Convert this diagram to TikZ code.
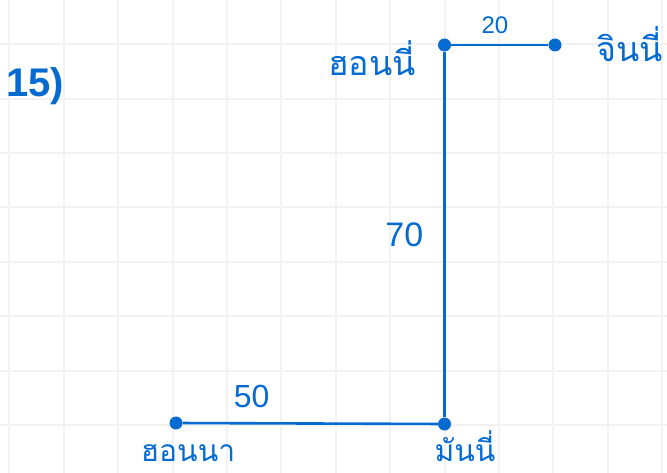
\documentclass[tikz,border=0pt]{standalone}
\usepackage{fontspec}
\setmainfont{Liberation Sans}
\newfontfamily\thaifont[Script=Thai]{Loma}
\usetikzlibrary{positioning}
\definecolor{penblue}{rgb}{0.02,0.42,0.82}
\definecolor{gridgray}{rgb}{0.95,0.95,0.95}
\tikzset{
  dot/.style={
    circle,
    fill=penblue,
    inner sep=0pt,
    minimum size=13pt
  },
  link/.style={
    line width=2.6pt,
    penblue
  },
  who/.style={
    text=penblue,
    anchor=base,
    inner sep=0pt,
    text depth=0pt,
    font=\thaifont\fontsize{34}{34}\selectfont
  },
  weight/.style={
    text=penblue,
    inner sep=0pt,
    font=\fontsize{34}{34}\selectfont
  },
  gridline/.style={
    gridgray,
    line width=2pt
  }
}

\begin{document}
\begin{tikzpicture}[x=1pt,y=-1pt]
\fill[white] (0,0) rectangle (667,473);
\useasboundingbox (0,0) rectangle (667,473);
% paper grid
\foreach \i in {0,...,12}
  \draw[gridline] ({9.3+54.4*\i},0) -- ++(0,473);
\foreach \j in {0,...,7}
  \draw[gridline] (0,{44.2+54.4*\j}) -- ++(667,0);

\node[text=penblue,anchor=base,inner sep=0pt,font=\bfseries\fontsize{40}{40}\selectfont] (num) at (35,97) {15)};

\node[dot] (honey) at (444.5,45) {};
\node[dot] (ginny) at (555,45) {};
\node[dot] (money) at (444.5,424) {};
\node[dot] (hanna) at (176,423) {};

\draw[link] (honey) -- node[weight,pos=.45,above=10pt,font=\fontsize{24}{24}\selectfont] (w20) {20} (ginny);
\draw[link] (honey) -- node[weight,left=20pt] (w70) {70} (money);
\draw[link] (hanna) -- node[weight,pos=.27,above=14pt,font=\fontsize{32}{32}\selectfont] (w50) {50} (money);

\node[who] (lhoney) at (372,76) {ฮอนนี่};
\node[who] (lginny) at (630,62) {จินนี่};
\node[who,font=\thaifont\fontsize{30}{30}\selectfont] (lhanna) at (188,461) {ฮอนนา};
\node[who,font=\thaifont\fontsize{30}{30}\selectfont] (lmoney) at (465,461) {มันนี่};
\end{tikzpicture}
\end{document}
